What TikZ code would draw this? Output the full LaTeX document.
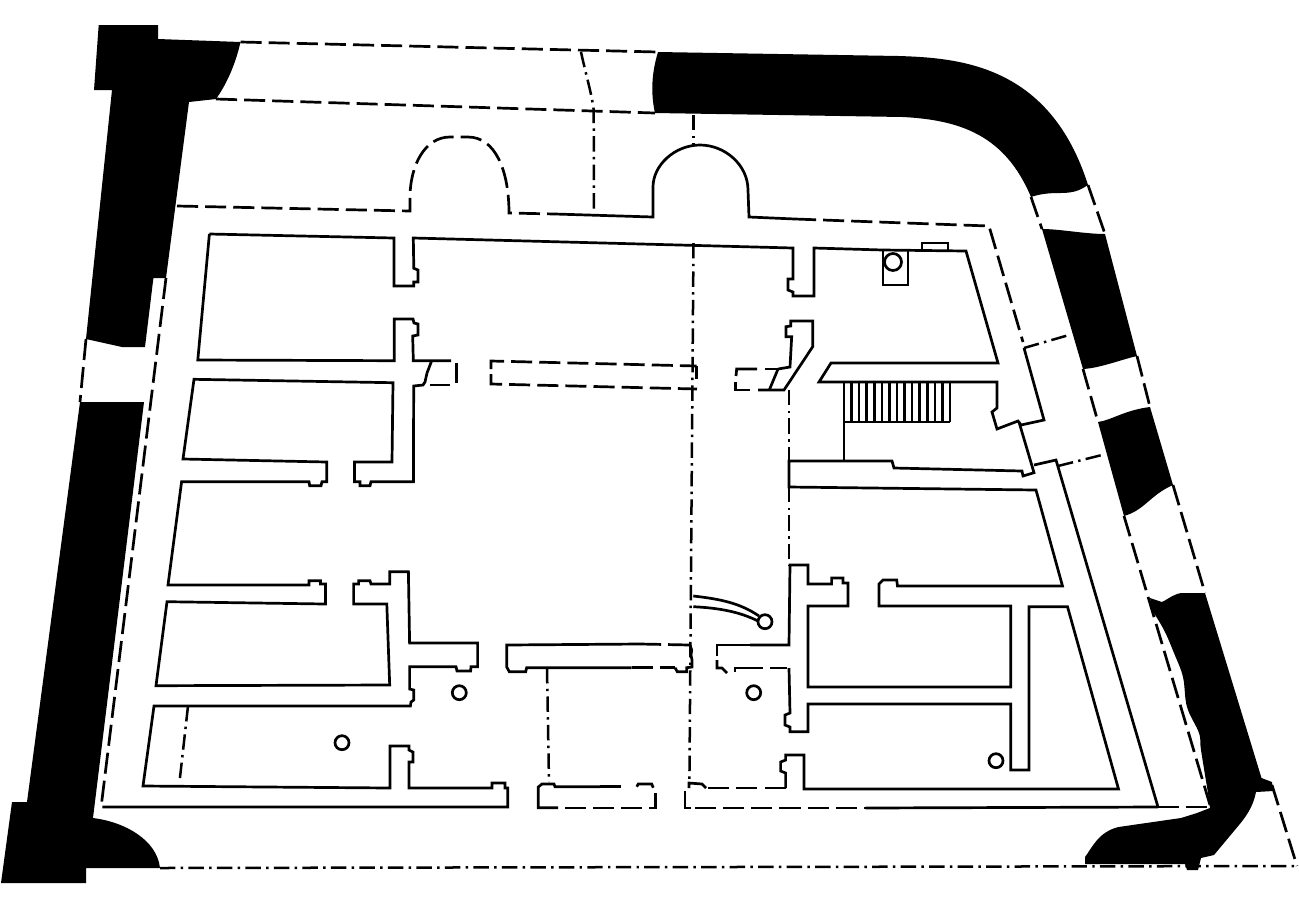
\documentclass[tikz,border=0pt]{standalone}
\usepackage{tikz}
\usetikzlibrary{positioning}

\begin{document}
\begin{tikzpicture}[x=0.01cm, y=-0.01cm,
		wallfill/.style={fill=black, draw=none},
		outline/.style={draw, line width=0.027cm, line join=miter},
		dashline/.style={draw, line width=0.027cm, dash pattern=on 6pt off 2pt},
		axisline/.style={draw, line width=0.025cm, dash pattern=on 4.4pt off 1.5pt on 0.7pt off 1.5pt},
		column/.style={draw, circle, line width=0.027cm, inner sep=0pt, minimum size=0.14cm}
	]
	
	\useasboundingbox (0,0) rectangle (1299,911);
	
	% solid wall parts
	\fill[wallfill] (98.7,25) -- (158,25) -- (158,39) -- (240.5,42) .. controls (236,62) and (228,82) .. (216,99) -- (189,102) -- (166,278) -- (153.4,278) -- (145,347) -- (122,347) -- (86,339) -- (112,90) -- (94,90) -- cycle;
	\fill[wallfill] (80,402) -- (144,402) -- (93,818) .. controls (125,822) and (157,840) .. (160,868) -- (86,868) -- (86,883) -- (1,883) -- (12,802) -- (27,802) -- cycle;
	\fill[wallfill] (658,52) -- (899,56) .. controls (960,58) and (1050,65) .. (1088,185) .. controls (1080,190) and (1075,193) .. (1060,193) .. controls (1048,193) and (1040,194) .. (1031,197) .. controls (1005,135) and (960,120) .. (903,117) -- (655,113) .. controls (651,95) and (651,75) .. (658,52) -- cycle;
	\fill[wallfill] (1042,229) .. controls (1060,229) and (1085,234) .. (1105,234) -- (1137,356) .. controls (1120,360) and (1100,368) .. (1083,369) -- cycle;
	\fill[wallfill] (1098,422) .. controls (1112,420) and (1125,410) .. (1150,407) -- (1173,485) .. controls (1150,495) and (1145,510) .. (1124,516) -- cycle;
	\fill[wallfill] (1150,598) -- (1162,602) .. controls (1170,598) and (1175,593) .. (1183,593) -- (1205,593) -- (1261.5,778) -- (1272,782) -- (1273,791) -- (1256,792) .. controls (1254,802) and (1250,812) .. (1239,825) -- (1214,855) -- (1201,858) -- (1198,870) -- (1187,870) -- (1185,864) -- (1085,864) -- (1085,857) .. controls (1092,848) and (1098,832) .. (1118.5,827) -- (1181,818) -- (1197,813) -- (1210,808) -- plot[smooth, tension=0.6] coordinates {(1208,793) (1201,750) (1199,733) (1187,707) (1183,677) (1174,653) (1164,630) (1152,610)} -- cycle;
	
	% outer dashed lines
	\draw[dashline] (240.5,42) -- (658,52);
	\draw[dashline] (216,99) -- (655,113);
	\draw[dashline] (86,339) -- (80,402);
	\draw[dashline] (166,278) -- (101.6,803);
	\draw[dashline] (1088,185) -- (1105,234);
	\draw[dashline] (1137,356) -- (1150,407);
	\draw[dashline] (1173,485) -- (1205,593);
	\draw[dashline] (1031,197) -- (1042,229);
	\draw[dashline] (1083,369) -- (1098,422);
	\draw[dashline] (1124,516) -- (1210,805);
	\draw[dashline] (1272,785) -- (1297,866);
	
	% apses and back wall
	\draw[dashline] (177,206) -- (410,211) -- (410,198) .. controls (410,165) and (425,137) .. (450,137) -- (468,137) .. controls (495,137) and (509,170) .. (509,213) -- (555,214);
	\draw[outline] (555,214) -- (653,217) -- (653,187) .. controls (653,165) and (675,145) .. (700,145) .. controls (725,145) and (748,165) .. (748,190) -- (749,217) -- (795,219);
	\draw[dashline] (795,219) -- (989,226) -- (1023,342);
	
	% rooms on the left
	\draw[outline] (209.4,234) -- (393.9,238) -- (393.9,286) -- (413.8,286) -- (413.8,282) -- (418,282) -- (418,270) -- (413.8,268.3) -- (413.3,238) -- (793,248) -- (793,279) -- (788,279) -- (788,290) -- (793,292) -- (793,296) -- (814,296) -- (814,248) -- (883,250);
	\draw[outline] (209.4,234) -- (197.8,360) -- (394.3,360.7) -- (394.3,319) -- (413,319) -- (414,323) -- (418,324) -- (418,335) -- (412.7,336) -- (413.3,360.7) -- (451,360.7);
	\draw[outline] (431.7,360.7) -- (427,373) -- (425,382) -- (423,385) -- (413.7,386) -- (413.4,481.7) -- (371,481.7) -- (370,485.7) -- (360,485.7) -- (360,481.7) -- (354.5,481.7) -- (354.5,462) -- (392,462) -- (393,382.7) -- (194,379.3) -- (183,459) -- (326.7,462) -- (326.7,481.7) -- (322,481.7) -- (321,485.7) -- (309.7,485.7) -- (309,481.7) -- (181.6,481.7) -- (168,585) -- (309,585) -- (309,580.7) -- (320.5,580.7) -- (320.5,584) -- (325.5,584) -- (325.5,604) -- (167,601.7) -- (156,685.7) -- (389.7,685) -- (386.8,604) -- (353.6,604) -- (353.6,584) -- (358.6,584) -- (358.6,580.7) -- (370,580.7) -- (371,584) -- (389.7,584) -- (389.7,571.7) -- (408.4,571.7) -- (409.6,643) -- (477.6,643) -- (477.6,666.7) -- (471,666.7) -- (470.6,671) -- (457,671) -- (456,666.7) -- (409.6,666.7) -- (409.6,689) -- (413.7,690) -- (413.7,700) -- (411,702) -- (410.4,706) -- (154,706) -- (143,786) -- (390,788) -- (390,746) -- (409,746) -- (409,750) -- (413,752) -- (413,762) -- (409,762) -- (409,788) -- (492,788) -- (492,783) -- (505,783) -- (505,788) -- (507.7,788) -- (507.7,807) -- (102.4,807);
	\draw[dashline] (430,385) -- (450,385);
	\draw[dashline] (456.7,363) -- (456.7,383);
	
	% middle bands
	\draw[dashline] (491,369) -- (491,361) -- (696.7,366);
	\draw[outline] (696.7,366) -- (696.7,379);
	\draw[dashline] (491,374) -- (491,384) -- (697,389);
	\draw[outline] (640,644) -- (506.7,645) -- (506.7,667) -- (509.3,671.7) -- (525.7,671.7) -- (526.7,667.7) -- (631.7,667.7);
	\draw[dashline] (640,644) -- (690,645);
	\draw[outline] (690,645) -- (691.7,650) -- (691,655) -- (692,660) -- (692,667) -- (686.7,667.7) -- (686.7,671.7) -- (677.3,671.7) -- (675,667.7);
	\draw[dashline] (631.7,667.7) -- (675,667.7);
	
	% front wall pieces
	\draw[outline] (600,786.7) -- (555,786.7) -- (554,784) -- (542,784) -- (538.3,787) -- (538.3,807.7) -- (558,807.7);
	\draw[dashline] (600,786.7) -- (628,786.7);
	\draw[outline] (636.7,786.7) -- (638.3,784) -- (651.7,784) -- (653.3,787.7);
	\draw[dashline] (565,808) -- (655.7,808) -- (655.7,791.7);
	\draw[outline] (685,791) -- (685,808) -- (691,808);
	\draw[dashline] (695,808) -- (865.6,808);
	\draw[outline] (865.6,808) -- (1158,807);
	\draw[dashline] (1158,807) -- (1208,807);
	
	% rooms on the right
	\draw[outline] (750,390) -- (735.7,390) -- (735.7,382);
	\draw[outline] (736,376) -- (736.7,369) -- (757,369);
	\draw[outline] (765,369) -- (778,369);
	\draw[outline] (778,369) -- (790,367) -- (791.7,336.7) -- (786,336.7) -- (786,326.7) -- (790.7,326) -- (790.7,321) -- (812.7,321) -- (812.7,346.7) -- (784,390) -- (758,390);
	\draw[outline] (778,369) -- (769.3,390);
	\draw[outline] (883,250) -- (966,251) -- (998,363) -- (831,363) -- (819,382) -- (997,382) -- (997,408) -- (992,412) -- (997,429) -- (1018,421) -- (1021,425) -- (1044,420) -- (1024,348);
	\draw[outline] (922,250) -- (922,243) -- (948,243) -- (948,250);
	\draw[outline] (883,250) -- (883,285) -- (908,285) -- (908,250);
	\node[column, minimum size=0.17cm] (colstair) at (893,262) {};
	
	% stair
	\draw[outline] (844,382) -- (844,461);
	\draw[outline] (844,422) -- (950,422);
	\draw[outline] (851.6,382) -- (851.6,422);
	\draw[outline] (859.1,382) -- (859.1,422);
	\draw[outline] (866.7,382) -- (866.7,422);
	\draw[outline] (874.3,382) -- (874.3,422);
	\draw[outline] (881.9,382) -- (881.9,422);
	\draw[outline] (889.4,382) -- (889.4,422);
	\draw[outline] (897,382) -- (897,422);
	\draw[outline] (904.6,382) -- (904.6,422);
	\draw[outline] (912.1,382) -- (912.1,422);
	\draw[outline] (919.7,382) -- (919.7,422);
	\draw[outline] (927.3,382) -- (927.3,422);
	\draw[outline] (934.9,382) -- (934.9,422);
	\draw[outline] (942.4,382) -- (942.4,422);
	\draw[outline] (950,382) -- (950,422);
	
	\draw[outline] (1019,422) -- (1034,472.7) -- (1023,476) -- (1022,471) -- (894,468) -- (892,461) -- (789,461) -- (789,487) -- (1036,490) -- (1062.5,586) -- (897.5,586) -- (896.7,580) -- (883,580) -- (879,584) -- (879,606) -- (1010.7,606) -- (1010.7,687) -- (808,687) -- (808,606) -- (848,606) -- (848,583) -- (843,583) -- (843,578) -- (831.6,578) -- (831.6,584) -- (808,584) -- (808,565) -- (790,565) -- (789,645) -- (750,645);
	\draw[outline] (1034,465) -- (1056,460) -- (1158,807);
	\draw[dashline] (750,645) -- (732,645);
	\draw[outline] (732,645) -- (717,645) -- (717,656);
	\draw[outline] (717,660) -- (717,668) -- (722,668) -- (727,673);
	\draw[outline] (735,672) -- (735,668) -- (763,668);
	\draw[outline] (770,668) -- (787,668);
	\draw[outline] (789,668) -- (790,713) -- (785,715) -- (785,725) -- (790,727) -- (790,731.7) -- (808,731.7) -- (808,704) -- (1010.7,704) -- (1010.7,770) -- (1029,770) -- (1029,606.7) -- (1067.5,606.7) -- (1118.5,789) -- (804,789) -- (804,755) -- (785.6,755) -- (785.6,760) -- (780.6,762) -- (780.6,771) -- (785.6,773) -- (785.6,788);
	\draw[dashline] (785.6,788) -- (706,788);
	\draw[outline] (706,788) -- (702,784) -- (689,783) -- (689,788);
	
	% door and columns
	\draw[outline] (693.3,596) .. controls (720,599) and (740,603) .. (759,616);
	\draw[outline] (693.3,606.7) .. controls (720,608) and (740,612) .. (758,621);
	\node[column, fill=white] (coldoor) at (765,621.7) {};
	\node[column] (colnorth) at (459.3,692.7) {};
	\node[column] (colsouth) at (753.7,692.7) {};
	\node[column] (colwest) at (342,742.7) {};
	\node[column] (coleast) at (996,760.7) {};
	
	% axis lines
	\draw[axisline] (581,52) .. controls (586,75) and (592,95) .. (593.7,110) -- (594,212);
	\draw[axisline] (693.5,115) -- (693.5,145);
	\draw[axisline] (693.5,243) -- (689.4,783);
	\draw[axisline] (789,390) -- (789,461);
	\draw[axisline] (789,487) -- (789,565);
	\draw[axisline] (547,668) -- (549,782);
	\draw[axisline] (188,706) -- (179.5,782);
	\draw[axisline] (1024,348) -- (1069,335);
	\draw[axisline] (1058,466) -- (1102,455);
	\draw[axisline] (160,868) -- (1297,866);
	
\end{tikzpicture}
\end{document}
